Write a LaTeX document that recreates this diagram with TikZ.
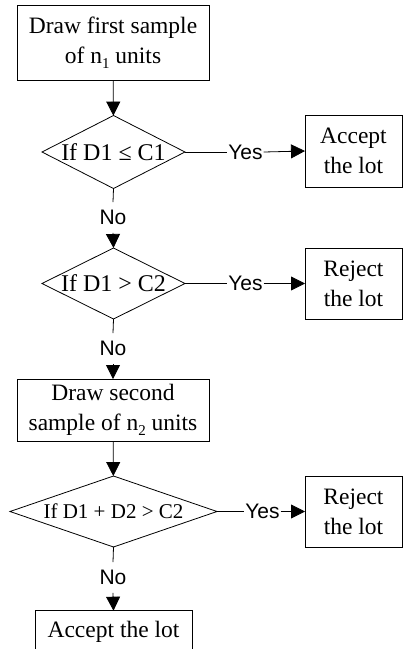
\documentclass[tikz,border=0pt]{standalone}
\usepackage{fontspec}
\setmainfont{Liberation Serif}
\setsansfont{Liberation Sans}
\usetikzlibrary{shapes.geometric,arrows.meta}
\newcommand\sbs[1]{\raisebox{-5pt}{\fontsize{15}{15}\selectfont #1}}
\tikzset{
  every node/.style={inner sep=0pt, outer sep=0pt},
  box/.style={draw, line width=0.8pt, rectangle, align=center, font=\fontsize{23.5}{30}\selectfont},
  dia/.style={draw, line width=0.8pt, diamond, font=\fontsize{24}{28}\selectfont},
  lbl/.style={font=\sffamily\fontsize{21}{24}\selectfont, inner xsep=1pt, inner ysep=8pt},
  conn/.style={line width=0.8pt},
  arr/.style={line width=0.8pt, -{Triangle[length=14pt,width=14pt]}}
}
\begin{document}
\begin{tikzpicture}[x=1pt,y=-1pt]
\useasboundingbox (0,0) rectangle (404,649);
% first sample
\node[box, minimum width=192pt, minimum height=75pt] (b1) at (113,42.5) {Draw first sample\\of n\sbs{1} units};
\node[dia, minimum width=143pt, minimum height=73pt] (d1) at (113.5,152) {\makebox[0pt]{If D1 ≤ C1}};
\node[box, minimum width=97pt, minimum height=72pt] (a1) at (353.5,151) {Accept\\the lot};
\node[lbl] (y1) at (245.5,152) {Yes};
\node[lbl] (n1) at (113,217.5) {No};
% second decision
\node[dia, minimum width=143pt, minimum height=71pt] (d2) at (113.5,283.5) {\makebox[0pt]{If D1 > C2}};
\node[box, minimum width=97pt, minimum height=71pt] (r1) at (353.5,283.5) {Reject\\the lot};
\node[lbl] (y2) at (245.5,283.5) {Yes};
\node[lbl] (n2) at (113,348.5) {No};
% second sample
\node[box, minimum width=192pt, minimum height=62pt] (b2) at (113,410) {Draw second\\sample of n\sbs{2} units};
\node[dia, minimum width=207pt, minimum height=71pt, font=\fontsize{21}{24}\selectfont] (d3) at (113.5,511.5) {\makebox[0pt]{If D1 + D2 > C2}};
\node[box, minimum width=97pt, minimum height=71pt] (r2) at (353.5,511.5) {Reject\\the lot};
\node[lbl] (y3) at (262.5,511.5) {Yes};
\node[lbl] (n3) at (113,577.5) {No};
\node[box, minimum width=157pt, minimum height=42pt] (b4) at (113.5,631.7) {Accept the lot};
% connectors
\draw[arr] (b1) -- (d1);
\draw[conn] (d1.east) -- (y1.west);
\draw[arr] (y1.east) -- (a1.west);
\draw[conn] (d1.south) -- (n1.north);
\draw[arr] (n1.south) -- (d2.north);
\draw[conn] (d2.east) -- (y2.west);
\draw[arr] (y2.east) -- (r1.west);
\draw[conn] (d2.south) -- (n2.north);
\draw[arr] (n2.south) -- (b2.north);
\draw[arr] (b2) -- (d3);
\draw[conn] (d3.east) -- (y3.west);
\draw[arr] (y3.east) -- (r2.west);
\draw[conn] (d3.south) -- (n3.north);
\draw[arr] (n3.south) -- (b4.north);
\end{tikzpicture}
\end{document}
